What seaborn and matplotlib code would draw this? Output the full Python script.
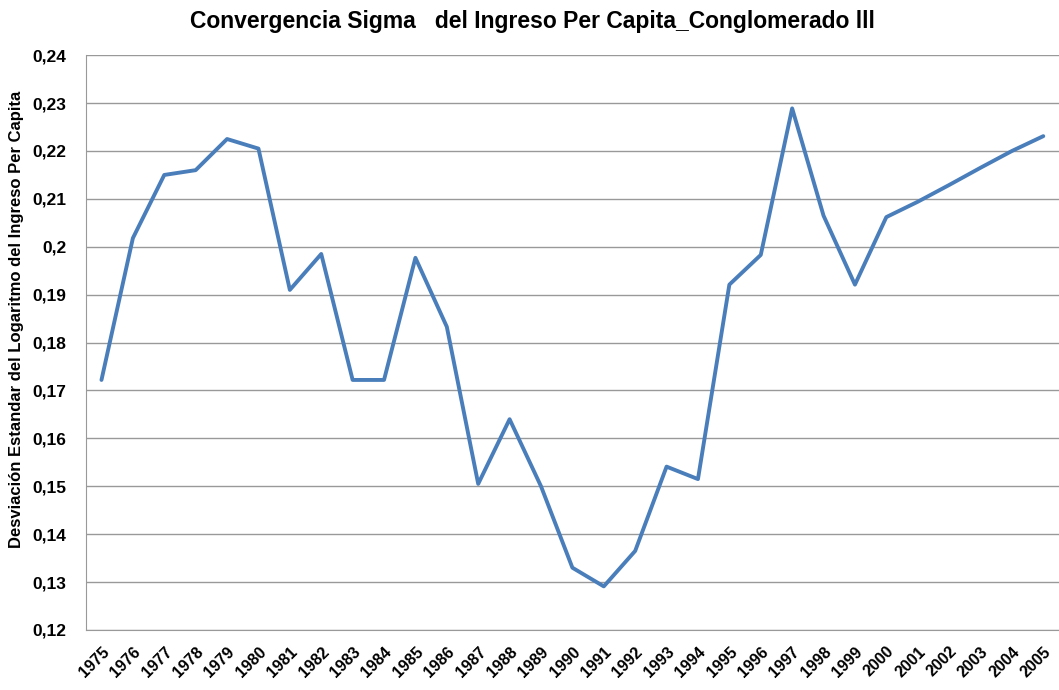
import pandas as pd
import matplotlib.pyplot as plt
import seaborn as sns
from matplotlib.ticker import FuncFormatter

years = list(range(1975, 2006))
sigma = [0.1722, 0.2018, 0.2150, 0.2160, 0.2225, 0.2205, 0.1910, 0.1985, 0.1722, 0.1722,
         0.1977, 0.1833, 0.1505, 0.1640, 0.1500, 0.1330, 0.1291, 0.1365, 0.1541, 0.1515,
         0.1921, 0.1983, 0.2289, 0.2065, 0.1921, 0.2062, 0.2094, 0.2129, 0.2165, 0.2200,
         0.2231]

df = pd.DataFrame({'Year': years, 'Sigma': sigma})

sns.set_style('white')
plt.rcParams['font.family'] = ['Liberation Sans', 'DejaVu Sans']
plt.rcParams['text.color'] = 'black'
plt.rcParams['xtick.color'] = 'black'
plt.rcParams['ytick.color'] = 'black'
plt.rcParams['axes.labelcolor'] = 'black'

fig = plt.figure(figsize=(10.59, 6.9), dpi=100)
ax = fig.add_axes([0.081, 0.087, 0.919, 0.833])

sns.lineplot(data=df, x='Year', y='Sigma', ax=ax, color='#4a7ebb', linewidth=2.8)

ax.set_xlim(1974.5, 2005.5)
ax.set_ylim(0.12, 0.24)
ax.set_xticks(years)
ax.set_xticklabels([str(y) for y in years], rotation=45, ha='right', rotation_mode='anchor',
                   fontsize=11.5, fontweight='bold')
ax.set_yticks([0.12 + 0.01 * i for i in range(13)])
ax.yaxis.set_major_formatter(FuncFormatter(lambda v, p: ('%g' % round(v, 2)).replace('.', ',')))
for lab in ax.get_yticklabels():
    lab.set_fontsize(12.5)
    lab.set_fontweight('bold')
ax.tick_params(axis='y', length=0, pad=14)
ax.tick_params(axis='x', length=0, pad=10)
ax.grid(axis='y', color='#999999', linewidth=1)
for s in ['top', 'right']:
    ax.spines[s].set_visible(False)
for s in ['left', 'bottom']:
    ax.spines[s].set_color('#999999')

ax.set_xlabel('')
ax.set_ylabel('Desviación Estandar del Logaritmo del Ingreso Per Capita', fontsize=12,
              fontweight='bold')
ax.yaxis.set_label_coords(-0.063, 0.54)
fig.suptitle('Convergencia Sigma   del Ingreso Per Capita_Conglomerado lll', fontsize=16.5,
             fontweight='bold', x=0.503, y=0.985)

fig.savefig('out.png', dpi=100)
